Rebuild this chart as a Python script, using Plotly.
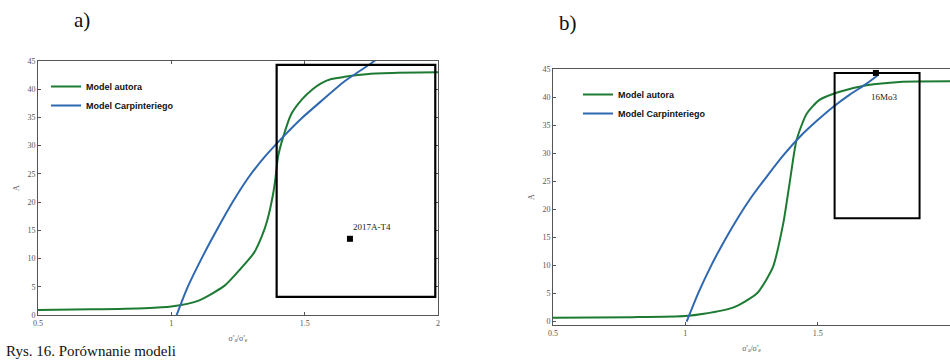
import plotly.graph_objects as go

# ---------------- data: panel a) (2017A-T4) ----------------
a_green_x = [0.5, 0.7, 0.9, 1.0, 1.1, 1.2, 1.26, 1.31, 1.34, 1.36, 1.38, 1.39, 1.40, 1.42,
             1.45, 1.49, 1.53, 1.56, 1.60, 1.65, 1.74, 1.85, 2.0]
a_green_y = [0.9, 1.0, 1.2, 1.5, 2.5, 5.2, 8.2, 11.0, 14.0, 16.8, 21.0, 24.0, 28.0, 31.6,
             35.6, 38.2, 40.0, 41.0, 41.8, 42.2, 42.7, 42.9, 43.0]
a_blue_x = [1.02, 1.06, 1.12, 1.17, 1.23, 1.29, 1.35, 1.42, 1.49, 1.56, 1.65, 1.75, 1.77]
a_blue_y = [0.0, 4.8, 10.6, 15.0, 20.0, 24.4, 28.0, 31.6, 34.9, 37.8, 41.4, 44.6, 45.3]
a_point_x = [1.67]
a_point_y = [13.5]
a_point_label = "2017A-T4"
a_box_x = [1.395, 1.99]
a_box_y = [3.2, 44.3]

# ---------------- data: panel b) (16Mo3) ----------------
b_green_x = [0.5, 0.8, 1.0, 1.07, 1.18, 1.27, 1.33, 1.37, 1.395, 1.42, 1.458, 1.507,
             1.58, 1.685, 1.81, 2.0]
b_green_y = [0.7, 0.8, 1.0, 1.4, 2.5, 5.0, 9.6, 17.5, 25.0, 32.3, 37.0, 39.5,
             40.9, 42.1, 42.7, 42.8]
b_blue_x = [1.005, 1.05, 1.10, 1.15, 1.20, 1.25, 1.307, 1.37, 1.432, 1.5, 1.557,
            1.62, 1.685, 1.725]
b_blue_y = [0.0, 5.2, 10.2, 14.6, 18.6, 22.2, 25.8, 29.6, 32.9, 35.9, 38.2,
            40.4, 42.4, 43.8]
b_point_x = [1.72]
b_point_y = [44.3]
b_point_label = "16Mo3"
b_box_x = [1.564, 1.885]
b_box_y = [18.4, 44.3]

series_names = ["Model autora", "Model Carpinteriego"]
y_ticks = [0, 5, 10, 15, 20, 25, 30, 35, 40, 45]
a_x_ticks = [0.5, 1, 1.5, 2]
a_x_ticktext = ["0.5", "1", "1.5", "2"]
b_x_ticks = [0.5, 1, 1.5]
b_x_ticktext = ["0.5", "1", "1.5"]

GREEN = "#1d7a33"
BLUE = "#2f68b0"

fig = go.Figure()

# panel a traces
fig.add_trace(go.Scatter(x=a_green_x, y=a_green_y, mode="lines", name=series_names[0],
                         line=dict(color=GREEN, width=2, shape="spline", smoothing=0.6),
                         xaxis="x", yaxis="y", legend="legend"))
fig.add_trace(go.Scatter(x=a_blue_x, y=a_blue_y, mode="lines", name=series_names[1],
                         line=dict(color=BLUE, width=2, shape="spline", smoothing=0.6),
                         xaxis="x", yaxis="y", legend="legend"))
fig.add_trace(go.Scatter(x=a_point_x, y=a_point_y, mode="markers", showlegend=False,
                         marker=dict(symbol="square", size=6, color="black"),
                         xaxis="x", yaxis="y"))

# panel b traces
fig.add_trace(go.Scatter(x=b_green_x, y=b_green_y, mode="lines", name=series_names[0],
                         line=dict(color=GREEN, width=2, shape="spline", smoothing=0.6),
                         xaxis="x2", yaxis="y2", legend="legend2"))
fig.add_trace(go.Scatter(x=b_blue_x, y=b_blue_y, mode="lines", name=series_names[1],
                         line=dict(color=BLUE, width=2, shape="spline", smoothing=0.6),
                         xaxis="x2", yaxis="y2", legend="legend2"))
fig.add_trace(go.Scatter(x=b_point_x, y=b_point_y, mode="markers", showlegend=False,
                         marker=dict(symbol="square", size=6, color="black"),
                         xaxis="x2", yaxis="y2"))

# rectangles
fig.add_shape(type="rect", xref="x", yref="y", x0=a_box_x[0], x1=a_box_x[1],
              y0=a_box_y[0], y1=a_box_y[1], line=dict(color="black", width=2.2))
fig.add_shape(type="rect", xref="x2", yref="y2", x0=b_box_x[0], x1=b_box_x[1],
              y0=b_box_y[0], y1=b_box_y[1], line=dict(color="black", width=2))

tickfont = dict(family="Liberation Serif", size=8, color="#555")
title_font = dict(family="Liberation Serif", size=8, color="#555")
axis_common = dict(showgrid=False, zeroline=False, showline=True, linecolor="#555",
                   linewidth=1, ticks="inside", ticklen=3, tickcolor="#555",
                   tickfont=tickfont, automargin=False)
legend_font = dict(family="Liberation Sans", size=9, color="#111", weight="bold")

fig.update_layout(
    width=950, height=360,
    margin=dict(l=0, r=0, t=0, b=0, pad=0, autoexpand=False),
    paper_bgcolor="white", plot_bgcolor="white",
    xaxis=dict(domain=[0.04, 0.461], range=[0.5, 2.0], anchor="y",
               tickvals=a_x_ticks, ticktext=a_x_ticktext, mirror="ticks",
               title=dict(text="σ'<sub>a</sub>/σ'<sub>e</sub>", standoff=8, font=title_font),
               **axis_common),
    yaxis=dict(domain=[0.125, 0.8306], range=[0, 45], anchor="x",
               tickvals=y_ticks, mirror="ticks",
               title=dict(text="A", standoff=6, font=title_font),
               **axis_common),
    xaxis2=dict(domain=[0.5821, 1.0], range=[0.5, 2.0], anchor="y2",
                tickvals=b_x_ticks, ticktext=b_x_ticktext, mirror=True,
                title=dict(text="σ'<sub>a</sub>/σ'<sub>e</sub>", standoff=8, font=title_font),
                **axis_common),
    yaxis2=dict(domain=[0.0972, 0.8083], range=[-0.6, 45], anchor="x2",
                tickvals=y_ticks,
                title=dict(text="A", standoff=6, font=title_font),
                **axis_common),
    legend=dict(x=46 / 950, y=1 - 72 / 360, xanchor="left", yanchor="top",
                bgcolor="rgba(255,255,255,0)", borderwidth=0, font=legend_font,
                tracegroupgap=0, itemwidth=30),
    legend2=dict(x=578 / 950, y=1 - 80 / 360, xanchor="left", yanchor="top",
                 bgcolor="rgba(255,255,255,0)", borderwidth=0, font=legend_font,
                 tracegroupgap=0, itemwidth=30),
    annotations=[
        dict(text="a)", x=82 / 950, y=1 - 20 / 360, xref="paper", yref="paper",
             xanchor="center", yanchor="middle",
             showarrow=False, font=dict(family="Liberation Serif", size=21, color="#111")),
        dict(text="b)", x=568 / 950, y=1 - 23 / 360, xref="paper", yref="paper",
             xanchor="center", yanchor="middle",
             showarrow=False, font=dict(family="Liberation Serif", size=21, color="#111")),
        dict(text=a_point_label, x=a_point_x[0], y=15.6, xref="x", yref="y",
             xanchor="left", yanchor="middle", xshift=1,
             showarrow=False, font=dict(family="Liberation Serif", size=9, color="#222")),
        dict(text=b_point_label, x=1.753, y=40.0, xref="x2", yref="y2",
             xanchor="center", yanchor="middle",
             showarrow=False, font=dict(family="Liberation Serif", size=9, color="#222")),
        dict(text="Rys. 16. Porównanie modeli", x=4 / 950, y=0.0, yshift=-1,
             xref="paper", yref="paper", xanchor="left", yanchor="bottom",
             showarrow=False, font=dict(family="Liberation Serif", size=15, color="#111")),
    ],
)

fig.write_html("out.html", config={"displayModeBar": False},
               post_script="document.body.style.margin='0';document.body.style.overflow='hidden';")
